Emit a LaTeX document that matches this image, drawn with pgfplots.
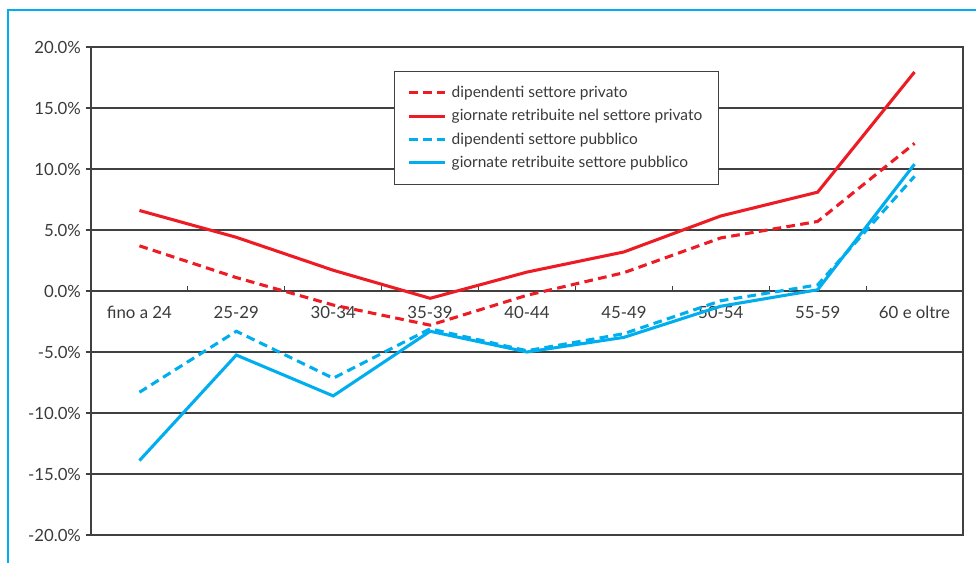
\documentclass[border=0pt]{standalone}
\usepackage{fontspec}
\setmainfont{Lato}
\usepackage{pgfplots}
\pgfplotsset{compat=1.18}
\definecolor{cRed}{HTML}{ED1C24}
\definecolor{cBlue}{HTML}{00AEEF}
\definecolor{cAx}{HTML}{404040}
\definecolor{cTxt}{HTML}{3A3A3A}
\begin{document}
\begin{tikzpicture}[font=\fontsize{12.6}{14}\selectfont]
\useasboundingbox (-68.25pt,-21pt) rectangle (663.75pt,401.25pt);
\draw[cBlue, line width=2.2pt] (-62.25pt,-30pt) -- (-62.25pt,393.75pt) -- (670pt,393.75pt);
\begin{axis}[
    at={(0,0)}, anchor=south west,
    scale only axis, width=654pt, height=366pt,
    xmin=-0.5, xmax=8.5, ymin=-20, ymax=20,
    axis line style={cAx, line width=1pt},
    tick style={cAx, line width=0.8pt},
    major tick length=4pt,
    tick align=outside,
    xtick pos=lower, ytick pos=left,
    xtick={0.5,1.5,...,7.5}, xticklabels={},
    xtick style={yshift=187pt},
    extra x ticks={0,1,2,3,4,5,6,7,8},
    extra x tick labels={fino a 24,25-29,30-34,35-39,40-44,45-49,50-54,55-59,60 e oltre},
    extra x tick style={major tick length=0pt,
        xticklabel style={yshift=173pt, fill=white, inner sep=1.5pt, text=cTxt}},
    ytick={-20,-15,-10,-5,0,5,10,15,20},
    yticklabels={-20.0\%,-15.0\%,-10.0\%,-5.0\%,0.0\%,5.0\%,10.0\%,15.0\%,20.0\%},
    yticklabel style={text=cTxt},
    ymajorgrids, grid style={cAx, line width=0.8pt},
    legend style={at={(0.347,0.951)}, anchor=north west, draw=cAx, line width=0.6pt,
        fill=white, text=cTxt, inner xsep=10pt, inner ysep=9pt, row sep=3.5pt,
        font=\fontsize{11.6}{13}\selectfont, cells={anchor=west}},
    legend image code/.code={\draw[#1] (0pt,0pt) -- (27pt,0pt); \path (29pt,0pt);},
]
\addplot[cRed, line width=2.3pt, dash pattern=on 6.5pt off 4pt] coordinates {
(0,3.7) (1,1.1) (2,-1.15) (3,-2.8) (4,-0.35) (5,1.5) (6,4.35) (7,5.7) (8,12.1)};
\addlegendentry{dipendenti settore privato}
\addplot[cRed, line width=2.3pt] coordinates {
(0,6.6) (1,4.4) (2,1.7) (3,-0.6) (4,1.55) (5,3.2) (6,6.15) (7,8.1) (8,17.95)};
\addlegendentry{giornate retribuite nel settore privato}
\addplot[cBlue, line width=2.3pt, dash pattern=on 6.5pt off 4pt] coordinates {
(0,-8.3) (1,-3.3) (2,-7.15) (3,-3.1) (4,-4.9) (5,-3.5) (6,-0.8) (7,0.5) (8,9.4)};
\addlegendentry{dipendenti settore pubblico}
\addplot[cBlue, line width=2.3pt] coordinates {
(0,-13.9) (1,-5.25) (2,-8.6) (3,-3.3) (4,-5.0) (5,-3.8) (6,-1.25) (7,0.1) (8,10.4)};
\addlegendentry{giornate retribuite settore pubblico}
\end{axis}
\end{tikzpicture}
\end{document}
